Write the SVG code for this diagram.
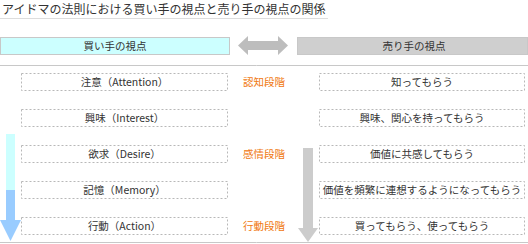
<svg xmlns="http://www.w3.org/2000/svg" width="528" height="244" viewBox="0 0 528 244">
<style>
text{font-family:"Noto Sans CJK JP","Noto Sans",sans-serif;fill:#333;}
.t{font-size:12px;}
.b{font-size:10.5px;text-anchor:middle;}
.s{font-size:10.5px;fill:#f07810;text-anchor:start;}
.dash{fill:#fff;stroke:#b8b8b8;stroke-width:1;stroke-dasharray:2,2;}
.rule{stroke:#c8c8c8;stroke-width:1;}
</style>
<rect width="528" height="244" fill="#fff"/>
<g id="title">
<text class="t" x="2" y="13.5">アイドマの法則における買い手の視点と売り手の視点の関係</text>
<line x1="0" y1="18.5" x2="328" y2="18.5" stroke="#ddd" stroke-width="1"/>
</g>
<g id="buyer-header">
<rect x="0.5" y="37.5" width="229" height="17" fill="#ccffff" stroke="#c8c8c8"/>
<text class="b" x="115" y="50">買い手の視点</text>
</g>
<g id="seller-header">
<rect x="297.5" y="37.5" width="230" height="17" fill="#cfcfcf" stroke="#c8c8c8"/>
<text class="b" x="414" y="50">売り手の視点</text>
</g>
<g id="rules">
<line class="rule" x1="0" y1="65.5" x2="528" y2="65.5"/>
<line class="rule" x1="0" y1="242.5" x2="528" y2="242.5"/>
</g>
<g id="connectors">
<polygon points="238,45.5 248,36 248,41 278,41 278,36 288,45.5 278,55 278,50 248,50 248,55" fill="#bdbdbd"/>
<rect x="6" y="134" width="9" height="56" fill="#ccffff"/>
<rect x="6" y="190" width="9" height="31" fill="#99ccff"/>
<polygon points="0,220 21,220 10.5,241" fill="#99ccff"/>
<rect x="303" y="148" width="10" height="80" fill="#cccccc"/>
<polygon points="298,228 318,228 308,242" fill="#cccccc"/>
</g>
<g id="buyer-attention"><rect class="dash" x="21.5" y="73.5" width="206" height="17"/><text class="b" x="124.5" y="86">注意（Attention）</text></g>
<g id="buyer-interest"><rect class="dash" x="21.5" y="109.5" width="206" height="17"/><text class="b" x="124.5" y="122">興味（Interest）</text></g>
<g id="buyer-desire"><rect class="dash" x="21.5" y="145.5" width="206" height="17"/><text class="b" x="124.5" y="158">欲求（Desire）</text></g>
<g id="buyer-memory"><rect class="dash" x="21.5" y="181.5" width="206" height="17"/><text class="b" x="124.5" y="194">記憶（Memory）</text></g>
<g id="buyer-action"><rect class="dash" x="21.5" y="217.5" width="206" height="17"/><text class="b" x="124.5" y="230">行動（Action）</text></g>
<g id="stage-cognition"><text class="s" x="243" y="86">認知段階</text></g>
<g id="stage-emotion"><text class="s" x="243" y="158">感情段階</text></g>
<g id="stage-action"><text class="s" x="243" y="230">行動段階</text></g>
<g id="seller-1"><rect class="dash" x="319.5" y="73.5" width="205" height="17"/><text class="b" x="422" y="86">知ってもらう</text></g>
<g id="seller-2"><rect class="dash" x="319.5" y="109.5" width="205" height="17"/><text class="b" x="422" y="122">興味、関心を持ってもらう</text></g>
<g id="seller-3"><rect class="dash" x="319.5" y="145.5" width="205" height="17"/><text class="b" x="422" y="158">価値に共感してもらう</text></g>
<g id="seller-4"><rect class="dash" x="319.5" y="181.5" width="205" height="17"/><text class="b" x="422" y="194">価値を頻繁に連想するようになってもらう</text></g>
<g id="seller-5"><rect class="dash" x="319.5" y="217.5" width="205" height="17"/><text class="b" x="422" y="230">買ってもらう、使ってもらう</text></g>
</svg>
